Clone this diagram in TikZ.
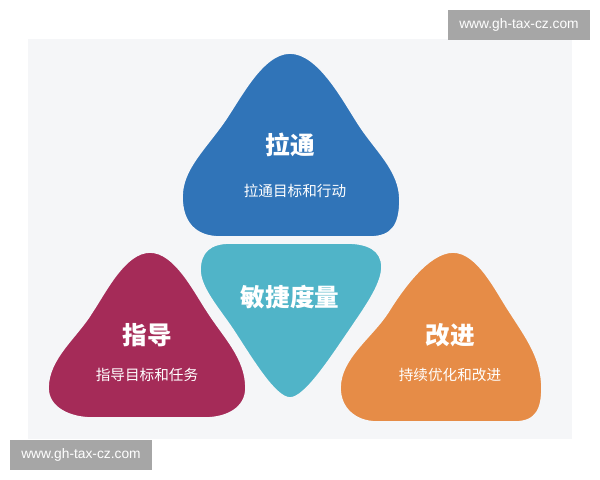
\documentclass[tikz,border=0pt]{standalone}
\usepackage{fontspec}
\usepackage{tikz}
\usetikzlibrary{positioning}
\setmainfont{Liberation Sans}
\newfontfamily\cjk{Noto Sans CJK SC}
\definecolor{panelgray}{HTML}{F5F6F8}
\definecolor{pullblue}{HTML}{3074B8}
\definecolor{agileteal}{HTML}{50B4C8}
\definecolor{guidered}{HTML}{A52B58}
\definecolor{improveorange}{HTML}{E68C47}
\definecolor{markgray}{HTML}{A6A6A6}
\tikzstyle{blob} = [draw=panelgray, line width=1.2]
\tikzstyle{title} = [text=white, font=\cjk\bfseries\fontsize{17.5}{20}\selectfont]
\tikzstyle{sub} = [text=white, font=\cjk\fontsize{10.4}{12}\selectfont]
\tikzstyle{wmark} = [fill=markgray, text=white, minimum width=3.55cm, minimum height=0.75cm, inner sep=0pt, font=\fontsize{9.8}{11}\selectfont]

\begin{document}
\begin{tikzpicture}[x=0.025cm, y=-0.025cm]

\fill[white] (0,0) rectangle (600,480);
\useasboundingbox (0,0) rectangle (600,480);
\fill[panelgray] (28,39) rectangle (572,439);

% top: blue
\filldraw[blob, fill=pullblue] (290,53) .. controls (318,53) and (342,98) .. (358,123)
  .. controls (375,150) and (400,170) .. (400,200)
  .. controls (400,225) and (392,237) .. (370,237) -- (220,237)
  .. controls (195,237) and (182,222) .. (182,197)
  .. controls (182,170) and (203,151) .. (223,123)
  .. controls (240,99) and (262,53) .. (290,53) -- cycle;
\node (pull) [title] at (290,145) {拉通};
\node (pullsub) [sub] at (295,191) {拉通目标和行动};

% middle: teal
\filldraw[blob, fill=agileteal] (230,243) -- (347,243)
  .. controls (368,243) and (382,250) .. (382,267)
  .. controls (382,285) and (364,309) .. (350,330)
  .. controls (330,359) and (305,398) .. (290,398)
  .. controls (275,398) and (252,359) .. (233,330)
  .. controls (219,309) and (200,288) .. (200,270)
  .. controls (200,252) and (210,243) .. (230,243) -- cycle;
\node (agile) [title] at (290,297) {敏捷度量};

% left: red
\filldraw[blob, fill=guidered] (150,252) .. controls (175,252) and (194,291) .. (208,312)
  .. controls (224,337) and (246,358) .. (246,388)
  .. controls (246,408) and (227,418) .. (205,418) -- (92,418)
  .. controls (70,418) and (48,408) .. (48,388)
  .. controls (48,358) and (77,337) .. (92,312)
  .. controls (106,291) and (125,252) .. (150,252) -- cycle;
\node (guide) [title] at (147,335) {指导};
\node (guidesub) [sub] at (147,375) {指导目标和任务};

% right: orange
\filldraw[blob, fill=improveorange] (453,252) .. controls (478,252) and (496,291) .. (510,312)
  .. controls (526,337) and (542,358) .. (542,388)
  .. controls (542,408) and (537,422) .. (515,422) -- (377,422)
  .. controls (355,422) and (340,408) .. (340,388)
  .. controls (340,358) and (372,337) .. (388,312)
  .. controls (401,291) and (428,252) .. (453,252) -- cycle;
\node (improve) [title] at (450,335) {改进};
\node (improvesub) [sub] at (450,375) {持续优化和改进};

% watermarks
\node (wmtop) [wmark] at (519,25) {www.gh-tax-cz.com};
\node (wmbottom) [wmark] at (81,455) {www.gh-tax-cz.com};

\end{tikzpicture}
\end{document}
